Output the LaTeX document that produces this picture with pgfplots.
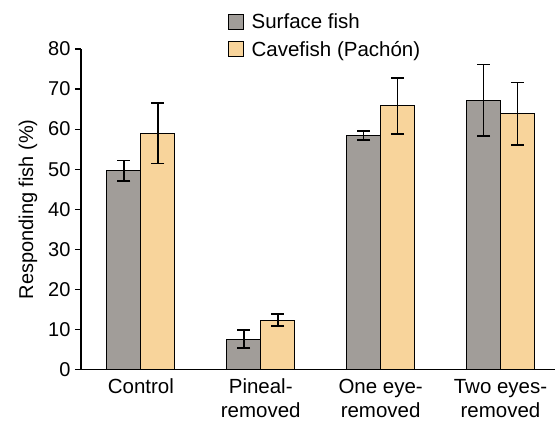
\documentclass[border=0pt]{standalone}
\usepackage{pgfplots}
\pgfplotsset{compat=1.18}
\usepackage{fontspec}
\setmainfont{Liberation Sans}
\definecolor{surf}{HTML}{A19D99}
\definecolor{cave}{HTML}{F8D49B}
\begin{document}
\begin{tikzpicture}
\begin{axis}[
  scale only axis,
  width=475bp, height=321bp,
  ymin=0, ymax=80,
  xmin=-0.5, xmax=3.458,
  ytick={0,10,...,80},
  axis lines=left,
  axis line style={-, line width=1.2bp},
  tick style={line width=1.2bp, black},
  tick align=outside,
  major tick length=6bp,
  xtick={0,1,2,3},
  xticklabels={Control, Pineal-\\removed, One eye-\\removed, Two eyes-\\removed},
  x tick label style={align=center, font=\fontsize{20.5bp}{24bp}\selectfont, yshift=0bp},
  xtick style={draw=none},
  extra x ticks={-0.5,0.5,1.5,2.5},
  extra x tick labels={},
  extra x tick style={tick style={line width=1.2bp, black, draw=black}, major tick length=6bp},
  y tick label style={font=\fontsize{20bp}{22bp}\selectfont, xshift=-1bp},
  /pgf/number format/assume math mode=true,
  ylabel={Responding fish (\%)},
  ylabel style={font=\fontsize{20bp}{22bp}\selectfont},
  ylabel shift=4bp,
  ybar=0pt,
  bar width=34bp,
  legend style={at={(rel axis cs:0.309,1.117)}, anchor=north west, draw=none, fill=none,
    font=\fontsize{20.5bp}{24bp}\selectfont, row sep=7bp, inner sep=0pt,
    /tikz/every odd column/.append style={column sep=6bp}},
  legend cell align=left,
  legend image code/.code={\draw[#1, line width=1bp] (0bp,-7.5bp) rectangle (15bp,7.5bp);},
  error bars/y dir=both,
  error bars/y explicit,
  error bars/error bar style={line width=1.7bp, black},
  error bars/error mark options={rotate=90, mark size=6.5bp, line width=1.7bp, black},
]
\addplot[fill=surf, draw=black, line width=1.2bp] coordinates {
  (0,49.6) +- (0,2.6)
  (1,7.6) +- (0,2.2)
  (2,58.4) +- (0,1.2)
  (3,67.2) +- (0,8.9)
};
\addlegendentry{Surface fish}
\addplot[fill=cave, draw=black, line width=1.2bp] coordinates {
  (0,59.0) +- (0,7.6)
  (1,12.3) +- (0,1.5)
  (2,65.8) +- (0,7.0)
  (3,63.8) +- (0,7.8)
};
\addlegendentry{Cavefish (Pachón)}
\end{axis}
\path[use as bounding box] (current axis.south west) ++(-81bp,-54bp) rectangle ++(556bp,424bp);
\end{tikzpicture}
\end{document}
